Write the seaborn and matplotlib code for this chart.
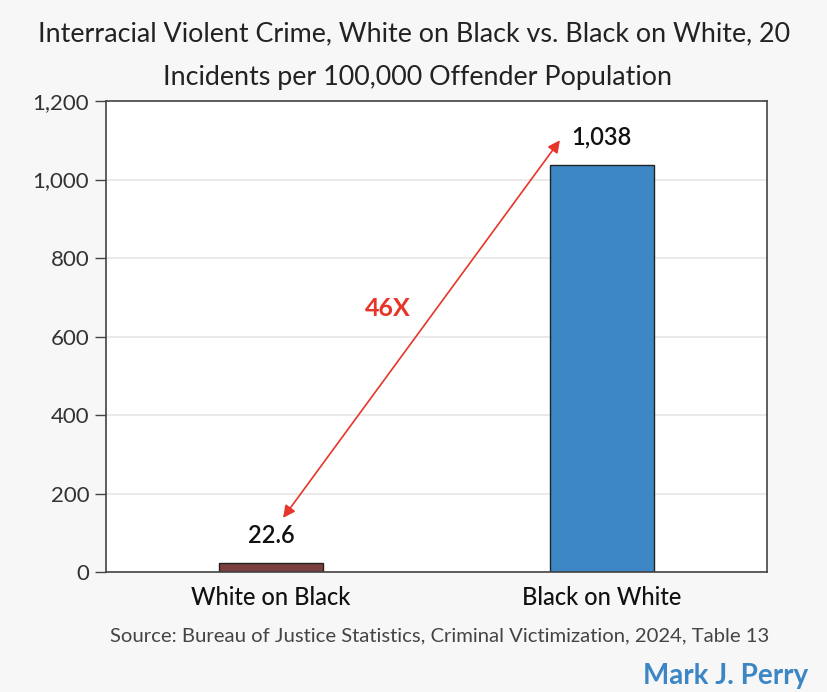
import numpy as np
import pandas as pd
import matplotlib
matplotlib.use('Agg')
import matplotlib.pyplot as plt
import seaborn as sns

# Chart values
categories = ['White on Black', 'Black on White']
rates = [22.6, 1038]
value_labels = ['22.6', '1,038']
bar_colors = ['#7b3f3f', '#3d87c6']
y_ticks = [0, 200, 400, 600, 800, 1000, 1200]
y_tick_labels = ['0', '200', '400', '600', '800', '1,000', '1,200']

df = pd.DataFrame({'Category': categories, 'Rate': rates})

sns.set_theme(style='white')
plt.rcParams['font.family'] = ['Lato', 'DejaVu Sans']

fig = plt.figure(figsize=(8.28, 6.92), dpi=100, facecolor='#f7f7f7')
ax = fig.add_axes([0.128, 0.1734, 0.798, 0.6806])
ax.set_facecolor('white')

sns.barplot(data=df, x='Category', y='Rate', hue='Category', palette=bar_colors,
            saturation=1, width=0.315, edgecolor='#222222', linewidth=1.0,
            legend=False, ax=ax)

ax.set_xlim(-0.5, 1.5)
ax.set_ylim(0, 1200)
ax.set_yticks(y_ticks)
ax.set_yticklabels(y_tick_labels)
ax.yaxis.grid(True, color='#e6e6e6', linewidth=1.2)
ax.set_axisbelow(True)
ax.set_xlabel('')
ax.set_ylabel('')
ax.tick_params(axis='y', length=8, width=1, color='#444444', labelsize=16,
               labelcolor='#333333', left=True, pad=4)
ax.tick_params(axis='x', length=0, labelsize=17, labelcolor='#111111', pad=10)
for lbl in ax.get_xticklabels():
    lbl.set_fontweight('medium')
for side in ['left', 'bottom', 'top', 'right']:
    ax.spines[side].set_color('#444444')
    ax.spines[side].set_linewidth(1.2)

# value labels above bars
for i, (v, txt) in enumerate(zip(rates, value_labels)):
    ax.text(i, v + 42, txt, ha='center', va='bottom', fontsize=17,
            color='#111111', fontweight='semibold')

# double-headed arrow between the bars
ax.annotate('', xy=(0.874, 1100), xytext=(0.036, 138),
            arrowprops=dict(arrowstyle='<|-|>', color='#e8352a', lw=1.2,
                            mutation_scale=18, shrinkA=0, shrinkB=0))
ax.text(0.353, 672, '46X', ha='center', va='center', fontsize=18,
        color='#e8352a', fontweight='bold')

fig.text(0.5, 0.951, 'Interracial Violent Crime, White on Black vs. Black on White, 20',
         ha='center', va='center', fontsize=19.4, color='#222222')
fig.text(0.504, 0.888, 'Incidents per 100,000 Offender Population',
         ha='center', va='center', fontsize=19.4, color='#222222')
fig.text(0.531, 0.081, 'Source: Bureau of Justice Statistics, Criminal Victimization, 2024, Table 13',
         ha='center', va='center', fontsize=14.6, color='#444444')
fig.text(0.976, 0.023, 'Mark J. Perry', ha='right', va='center', fontsize=20,
         color='#3c86c6', fontweight='bold')

fig.savefig('out.png', dpi=100, facecolor=fig.get_facecolor())
